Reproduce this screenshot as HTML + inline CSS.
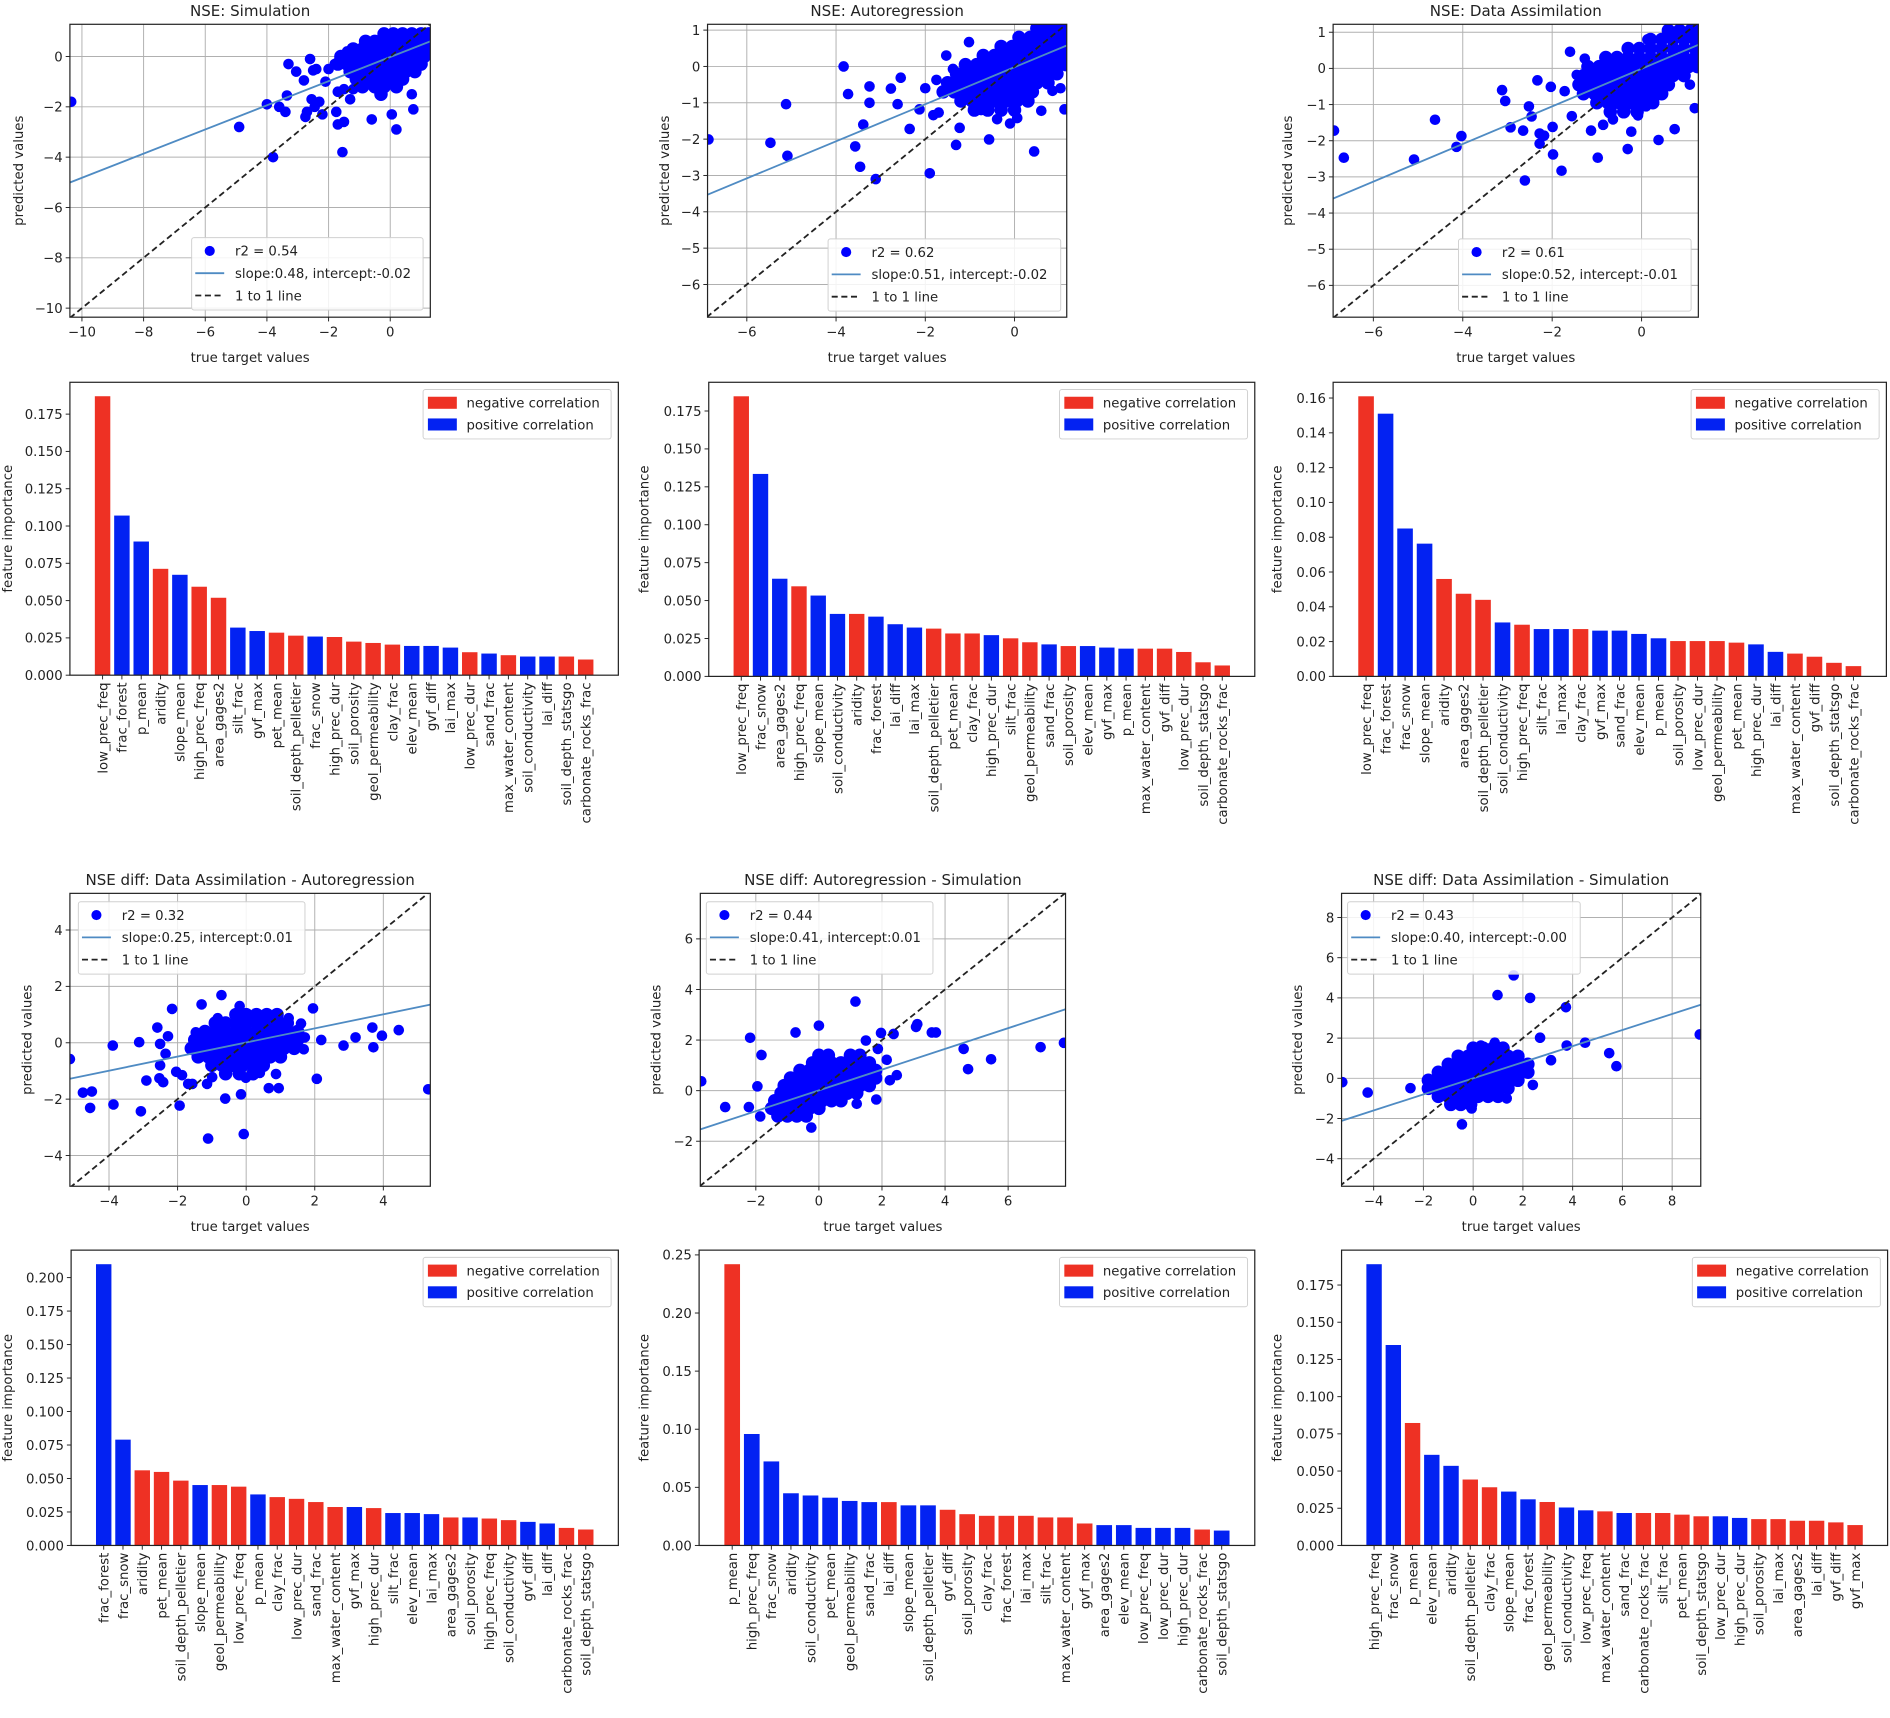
<!DOCTYPE html>
<html><head><meta charset="utf-8"><title>NSE feature importance</title>
<style>
html,body{margin:0;padding:0;background:#fff;}
svg{display:block;}
text{font-family:"DejaVu Sans","Liberation Sans",sans-serif;fill:#222;}
</style></head>
<body>
<svg id="fig" xmlns="http://www.w3.org/2000/svg" width="1890" height="1718" viewBox="0 0 1568 1425"></svg>
<script>
// ---------- scatter data ----------
const simOutliers=[[-10.35,-1.8],[-4.9,-2.8],[-3.8,-4.0],[-4.0,-1.9],[-3.6,-2.0],[-3.4,-2.2],[-3.35,-1.55],[-3.3,-0.3],[-3.05,-0.6],[-2.8,-0.95],[-2.7,-2.2],[-2.75,-2.4],[-2.6,-0.1],[-2.5,-0.55],[-2.55,-1.7],[-2.4,-0.5],[-2.45,-2.0],[-2.3,-1.8],[-2.2,-2.3],[-2.1,-1.0],[-2.0,-0.5],[-1.8,-0.3],[-1.7,-1.4],[-1.7,-2.7],[-1.75,-2.2],[-1.55,-3.8],[-1.5,-2.6],[-1.5,-1.3],[-1.4,0.2],[-1.3,-1.7],[-0.6,-2.5],[0.05,-2.3],[0.2,-2.9],[0.7,-1.5],[0.75,-2.1],[-1.2,-1.3],[-1.0,-1.1]];
const simCore=[[0.9,[-0.2,0.1,0.4,0.7,1.0,1.25]],[0.6,[-0.8,-0.5,-0.2,0.1,0.4,0.7,1.0,1.25]],[0.3,[-1.2,-0.9,-0.6,-0.3,0,0.3,0.6,0.9,1.2]],[0.0,[-1.6,-1.3,-1.0,-0.7,-0.4,-0.1,0.2,0.5,0.8,1.1]],[-0.3,[-1.7,-1.4,-1.1,-0.8,-0.5,-0.2,0.1,0.4,0.7,1.0]],[-0.6,[-1.3,-1.0,-0.7,-0.4,-0.1,0.2,0.5,0.8]],[-0.9,[-1.1,-0.8,-0.5,-0.2,0.1,0.4]],[-1.2,[-0.9,-0.5,-0.2,0.2]],[-1.5,[-0.3]]];

const arOutliers=[[-6.86,-2.01],[-5.47,-2.1],[-5.12,-1.04],[-5.09,-2.46],[-3.83,0],[-3.73,-0.76],[-3.57,-2.2],[-3.46,-2.76],[-3.39,-1.6],[-3.25,-0.55],[-3.25,-1.0],[-3.11,-3.1],[-2.77,-0.61],[-2.62,-1.04],[-2.55,-0.31],[-2.35,-1.72],[-2.13,-1.18],[-1.9,-2.94],[-1.82,-1.34],[-1.53,0.3],[-1.02,0.67],[-1.23,-1.69],[-1.31,-2.16],[-0.57,-2.01],[-0.39,-1.45],[-0.1,-1.57],[0.06,-1.42],[0.44,-2.34],[0.6,-1.22],[0.85,-0.67],[1.03,-0.6],[1.12,-1.18],[0.74,-0.3],[-2.0,-0.6],[-1.75,-0.37],[-1.38,-0.07],[-0.75,-1.2],[-0.7,-0.82],[-1.7,-1.27]];
const arCore=[[1.05,[0.5,0.75,1.0,1.15]],[0.8,[0.1,0.35,0.6,0.85,1.1]],[0.55,[-0.3,-0.05,0.2,0.45,0.7,0.95,1.15]],[0.3,[-0.7,-0.45,-0.2,0.05,0.3,0.55,0.8,1.05]],[0.05,[-1.1,-0.85,-0.6,-0.35,-0.1,0.15,0.4,0.65,0.9,1.15]],[-0.2,[-1.3,-1.05,-0.8,-0.55,-0.3,-0.05,0.2,0.45,0.7,0.95]],[-0.45,[-1.5,-1.25,-1.0,-0.75,-0.5,-0.25,0,0.25,0.5,0.75]],[-0.7,[-1.6,-1.35,-1.1,-0.85,-0.6,-0.35,-0.1,0.15,0.4]],[-0.95,[-1.2,-0.95,-0.7,-0.45,-0.2,0.05,0.3]],[-1.2,[-0.9,-0.6,-0.3,0.0]]];

const daOutliers=[[-6.88,-1.72],[-6.66,-2.47],[-4.62,-1.42],[-5.09,-2.52],[-4.14,-2.17],[-4.03,-1.87],[-3.12,-0.6],[-3.05,-0.9],[-2.93,-1.63],[-2.65,-1.72],[-2.61,-3.1],[-2.52,-1.05],[-2.46,-1.33],[-2.33,-0.33],[-2.28,-1.8],[-2.28,-2.08],[-2.18,-1.86],[-2.03,-0.51],[-1.99,-1.62],[-1.98,-2.38],[-1.79,-2.83],[-1.6,0.46],[-1.56,-1.32],[-1.27,0.27],[-1.13,-1.72],[-0.98,-2.47],[-0.86,-1.56],[-0.64,-1.41],[-0.31,-2.23],[-0.23,-1.75],[-0.08,-1.3],[0.1,-1.05],[0.35,-0.75],[0.38,-1.98],[0.74,-1.68],[1.08,-0.45],[1.19,-1.1],[0.13,0.8],[-0.91,-0.55],[-1.45,-0.18],[-1.72,-0.63]];
const daCore=[[1.05,[0.6,0.85,1.1,1.25]],[0.8,[0.2,0.45,0.7,0.95,1.2]],[0.55,[-0.3,-0.05,0.2,0.45,0.7,0.95,1.2]],[0.3,[-0.8,-0.55,-0.3,-0.05,0.2,0.45,0.7,0.95,1.2]],[0.05,[-1.2,-0.95,-0.7,-0.45,-0.2,0.05,0.3,0.55,0.8,1.05,1.25]],[-0.2,[-1.3,-1.05,-0.8,-0.55,-0.3,-0.05,0.2,0.45,0.7,0.95]],[-0.45,[-1.4,-1.15,-0.9,-0.65,-0.4,-0.15,0.1,0.35,0.6]],[-0.7,[-1.3,-1.05,-0.8,-0.55,-0.3,-0.05,0.2,0.45]],[-0.95,[-1.0,-0.75,-0.5,-0.25,0.0,0.25]],[-1.2,[-0.7,-0.4,-0.1]]];

const daArOutliers=[[-5.14,-0.58],[-4.76,-1.77],[-4.5,-1.73],[-4.55,-2.31],[-3.89,-0.1],[-3.87,-2.19],[-3.12,0.02],[-3.07,-2.43],[-2.91,-1.34],[-2.59,0.54],[-2.53,-1.26],[-2.51,-0.04],[-2.51,-0.8],[-2.42,-1.4],[-2.35,-0.39],[-2.28,0.23],[-2.16,1.2],[-2.04,-1.03],[-1.94,-2.23],[-1.87,-1.15],[-1.69,-1.46],[-1.57,-1.46],[-1.47,0.37],[-1.3,1.36],[-1.14,-1.46],[-1.11,-3.4],[-0.99,-1.22],[-0.83,0.87],[-0.72,1.69],[-0.61,-1.98],[-0.19,1.3],[-0.15,-1.83],[-0.07,-3.24],[-0.01,-1.24],[0.4,-1.07],[0.66,-1.61],[0.87,-1.11],[0.95,-1.61],[0.63,0.97],[1.04,0.72],[1.24,0.87],[1.6,0.68],[1.68,-0.23],[1.71,0.19],[1.95,1.22],[2.06,-1.28],[2.19,0.1],[2.84,-0.1],[3.19,0.19],[3.68,0.54],[3.71,-0.16],[3.96,0.25],[4.45,0.45],[5.31,-1.65]];
const daArCore=[[1.0,[-0.3,0,0.3,0.6,0.9]],[0.7,[-0.9,-0.6,-0.3,0,0.3,0.6,0.9,1.2]],[0.4,[-1.2,-0.9,-0.6,-0.3,0,0.3,0.6,0.9,1.2,1.5]],[0.1,[-1.5,-1.2,-0.9,-0.6,-0.3,0,0.3,0.6,0.9,1.2,1.5]],[-0.2,[-1.6,-1.3,-1.0,-0.7,-0.4,-0.1,0.2,0.5,0.8,1.1,1.4]],[-0.5,[-1.4,-1.1,-0.8,-0.5,-0.2,0.1,0.4,0.7,1.0]],[-0.8,[-1.0,-0.7,-0.4,-0.1,0.2,0.5]],[-1.1,[-0.6,-0.2,0.2]]];

const arSimOutliers=[[-3.73,0.37],[-2.97,-0.65],[-2.18,2.09],[-2.22,-0.65],[-1.82,1.41],[-1.95,0.17],[-1.86,-1.02],[-0.74,2.3],[0,2.57],[-0.24,-1.46],[1.16,3.52],[1.97,2.28],[2.37,2.24],[2.15,1.22],[2.25,0.41],[2.47,0.61],[1.82,-0.35],[1.2,-0.52],[3.08,2.52],[3.12,2.63],[3.58,2.3],[3.71,2.3],[4.59,1.65],[4.73,0.85],[5.46,1.24],[7.03,1.72],[7.77,1.89],[1.87,1.65],[1.49,1.98]];
const arSimCore=[[1.4,[0.0,0.3,1.0,1.3]],[1.1,[-0.2,0.1,0.4,0.7,1.0,1.3,1.6]],[0.8,[-0.6,-0.3,0,0.3,0.6,0.9,1.2,1.5,1.8]],[0.5,[-0.9,-0.6,-0.3,0,0.3,0.6,0.9,1.2,1.5,1.8]],[0.2,[-1.1,-0.8,-0.5,-0.2,0.1,0.4,0.7,1.0,1.3,1.6]],[-0.1,[-1.2,-0.9,-0.6,-0.3,0,0.3,0.6,0.9,1.2]],[-0.4,[-1.4,-1.1,-0.8,-0.5,-0.2,0.1,0.4,0.7]],[-0.7,[-1.5,-1.2,-0.9,-0.6,-0.3,0]],[-1.0,[-1.3,-1.0,-0.7,-0.4]]];

const daSimOutliers=[[-5.26,-0.19],[-4.24,-0.71],[-2.52,-0.49],[1.63,5.12],[0.98,4.14],[2.29,4.0],[3.73,3.54],[3.76,1.63],[2.69,2.02],[3.13,0.9],[2.4,-0.33],[1.35,-1.0],[1.27,-0.49],[-0.06,-1.5],[-0.45,-2.29],[4.5,1.77],[5.47,1.25],[5.76,0.6],[9.11,2.18],[0.31,1.63],[0.87,1.77]];
const daSimCore=[[1.5,[0.0,0.4,0.8,1.2]],[1.1,[-0.6,-0.2,0.2,0.6,1.0,1.4,1.8]],[0.7,[-1.0,-0.6,-0.2,0.2,0.6,1.0,1.4,1.8,2.2]],[0.3,[-1.4,-1.0,-0.6,-0.2,0.2,0.6,1.0,1.4,1.8,2.2]],[-0.1,[-1.8,-1.4,-1.0,-0.6,-0.2,0.2,0.6,1.0,1.4,1.8]],[-0.5,[-1.8,-1.4,-1.0,-0.6,-0.2,0.2,0.6,1.0,1.4]],[-0.9,[-1.4,-1.0,-0.6,-0.2,0.2,0.6,1.0]],[-1.3,[-0.9,-0.5,-0.1]]];

const scatterStats=[[0.54,0.48,-0.02],[0.62,0.51,-0.02],[0.61,0.52,-0.01],[0.32,0.25,0.01],[0.44,0.41,0.01],[0.43,0.40,-0.00]];

// ---------- bar data ----------
const labels1=['low_prec_freq','frac_forest','p_mean','aridity','slope_mean','high_prec_freq','area_gages2','silt_frac','gvf_max','pet_mean','soil_depth_pelletier','frac_snow','high_prec_dur','soil_porosity','geol_permeability','clay_frac','elev_mean','gvf_diff','lai_max','low_prec_dur','sand_frac','max_water_content','soil_conductivity','lai_diff','soil_depth_statsgo','carbonate_rocks_frac'];
const values1=[0.187,0.107,0.0896,0.0713,0.0673,0.0593,0.0519,0.0319,0.0296,0.0285,0.0265,0.0259,0.0256,0.0225,0.0216,0.0205,0.0196,0.0196,0.0185,0.0154,0.0145,0.0134,0.0125,0.0125,0.0125,0.0105];
const signs1='RBBRBRRBBRRBRRRRBBBRBRBBRR';
const labels2=['low_prec_freq','frac_snow','area_gages2','high_prec_freq','slope_mean','soil_conductivity','aridity','frac_forest','lai_diff','lai_max','soil_depth_pelletier','pet_mean','clay_frac','high_prec_dur','silt_frac','geol_permeability','sand_frac','soil_porosity','elev_mean','gvf_max','p_mean','max_water_content','gvf_diff','low_prec_dur','soil_depth_statsgo','carbonate_rocks_frac'];
const values2=[0.1847,0.1335,0.0644,0.0594,0.0533,0.0412,0.0412,0.0394,0.0344,0.0322,0.0315,0.0283,0.0283,0.0272,0.0251,0.0225,0.0211,0.0200,0.0200,0.0190,0.0183,0.0183,0.0183,0.0161,0.0093,0.0072];
const signs2='RBBRBBRBBBRRRBRRBRBBBRRRRR';
const labels3=['low_prec_freq','frac_forest','frac_snow','slope_mean','aridity','area_gages2','soil_depth_pelletier','soil_conductivity','high_prec_freq','silt_frac','lai_max','clay_frac','gvf_max','sand_frac','elev_mean','p_mean','soil_porosity','low_prec_dur','geol_permeability','pet_mean','high_prec_dur','lai_diff','max_water_content','gvf_diff','soil_depth_statsgo','carbonate_rocks_frac'];
const values3=[0.161,0.151,0.085,0.0763,0.056,0.0475,0.044,0.031,0.0297,0.0272,0.0272,0.0272,0.0263,0.0263,0.0244,0.0219,0.0203,0.0203,0.0203,0.0194,0.0184,0.0141,0.0131,0.0113,0.0078,0.0059];
const signs3='RBBBRRRBRBBRBBBBRRRRBBRRRR';
const labels4=['frac_forest','frac_snow','aridity','pet_mean','soil_depth_pelletier','slope_mean','geol_permeability','low_prec_freq','p_mean','clay_frac','low_prec_dur','sand_frac','max_water_content','gvf_max','high_prec_dur','silt_frac','elev_mean','lai_max','area_gages2','soil_porosity','high_prec_freq','soil_conductivity','gvf_diff','lai_diff','carbonate_rocks_frac','soil_depth_statsgo'];
const values4=[0.210,0.079,0.0561,0.0549,0.0484,0.0451,0.0451,0.0439,0.0381,0.0361,0.0348,0.0324,0.0287,0.0287,0.0279,0.0242,0.0242,0.0234,0.0209,0.0209,0.0201,0.0189,0.0176,0.0164,0.0131,0.0119];
const signs4='BBRRRBRRBRRRRBRBBBRBRRBBRR';
const labels5=['p_mean','high_prec_freq','frac_snow','aridity','soil_conductivity','pet_mean','geol_permeability','sand_frac','lai_diff','slope_mean','soil_depth_pelletier','gvf_diff','soil_porosity','clay_frac','frac_forest','lai_max','silt_frac','max_water_content','gvf_max','area_gages2','elev_mean','low_prec_freq','low_prec_dur','high_prec_dur','carbonate_rocks_frac','soil_depth_statsgo'];
const values5=[0.242,0.0959,0.0723,0.0449,0.043,0.0411,0.0383,0.0373,0.0373,0.0345,0.0345,0.0307,0.0269,0.0255,0.0255,0.0255,0.0241,0.0241,0.0189,0.0175,0.0175,0.0151,0.0151,0.0151,0.0137,0.0128];
const signs5='RBBBBBBBRBBRRRRRRRRBBBBBRB';
const labels6=['high_prec_freq','frac_snow','p_mean','elev_mean','aridity','soil_depth_pelletier','clay_frac','slope_mean','frac_forest','geol_permeability','soil_conductivity','low_prec_freq','max_water_content','sand_frac','carbonate_rocks_frac','silt_frac','pet_mean','soil_depth_statsgo','low_prec_dur','high_prec_dur','soil_porosity','lai_max','area_gages2','lai_diff','gvf_diff','gvf_max'];
const values6=[0.189,0.1347,0.0823,0.0609,0.0535,0.0443,0.0391,0.0362,0.031,0.0292,0.0255,0.0236,0.0229,0.0218,0.0218,0.0218,0.0207,0.0196,0.0196,0.0185,0.0177,0.0177,0.0166,0.0166,0.0155,0.0137];
const signs6='BBRBBRRBBRBBRBRRRRBBRRRRRR';

// ---------- drawing ----------
const NS='http://www.w3.org/2000/svg';
const svg=document.getElementById('fig');
function el(tag,attrs,parent){const e=document.createElementNS(NS,tag);for(const k in attrs)e.setAttribute(k,attrs[k]);(parent||svg).appendChild(e);return e;}
function txt(s,attrs,parent){const e=el('text',attrs,parent);e.textContent=s;return e;}
function fmt(v,d){const s=Math.abs(v).toFixed(d);return (v<0&&Math.abs(v)>1e-9?'\u2212':'')+s;}
const FS=11;

function drawScatter(c){
  const g=el('g',{});
  
  
  const [bx0,by0,bx1,by1]=c.box;
  const sx=v=>bx0+(v-c.xlim[0])/(c.xlim[1]-c.xlim[0])*(bx1-bx0);
  const sy=v=>by1-(v-c.ylim[0])/(c.ylim[1]-c.ylim[0])*(by1-by0);
  const cid=c.name+'-clip';
  const cp=el('clipPath',{id:cid},g);
  el('rect',{x:bx0,y:by0,width:bx1-bx0,height:by1-by0},cp);
  c.xticks.forEach(t=>{
    const x=sx(t);
    const gl=el('line',{x1:x,x2:x,y1:by0,y2:by1,stroke:'#b0b0b0','stroke-width':0.8},g);
    
    
    el('line',{x1:x,x2:x,y1:by1,y2:by1+3.5,stroke:'#222','stroke-width':0.8},g);
    const tl=txt(fmt(t,0),{x:x,y:by1+16,'font-size':FS,'text-anchor':'middle'},g);
    
    
  });
  c.yticks.forEach(t=>{
    const y=sy(t);
    const gl=el('line',{x1:bx0,x2:bx1,y1:y,y2:y,stroke:'#b0b0b0','stroke-width':0.8},g);
    
    
    el('line',{x1:bx0-3.5,x2:bx0,y1:y,y2:y,stroke:'#222','stroke-width':0.8},g);
    const tl=txt(fmt(t,0),{x:bx0-6,y:y+4,'font-size':FS,'text-anchor':'end'},g);
    
    
  });
  const pg=el('g',{'clip-path':'url(#'+cid+')'},g);
  
  
  c.core.forEach(r=>r[1].forEach(x=>{
    const d=el('circle',{cx:sx(x),cy:sy(r[0]),r:5.6,fill:'#0000ff'},pg);
    
    
  }));
  c.outliers.forEach(p=>{
    const d=el('circle',{cx:sx(p[0]),cy:sy(p[1]),r:4.4,fill:'#0000ff'},pg);
    
    
  });
  const slope=c.stats[1],icpt=c.stats[2];
  const rl=el('line',{x1:sx(c.xlim[0]),y1:sy(slope*c.xlim[0]+icpt),x2:sx(c.xlim[1]),y2:sy(slope*c.xlim[1]+icpt),stroke:'#4f8bc3','stroke-width':1.5},pg);
  
  
  const lo=Math.min(c.xlim[0],c.ylim[0]),hi=Math.max(c.xlim[1],c.ylim[1]);
  const ol=el('line',{x1:sx(lo),y1:sy(lo),x2:sx(hi),y2:sy(hi),stroke:'#222','stroke-width':1.5,'stroke-dasharray':'5,3'},pg);
  
  
  const sp=el('rect',{x:bx0,y:by0,width:bx1-bx0,height:by1-by0,fill:'none',stroke:'#222','stroke-width':1},g);
  
  
  const tt=txt(c.title,{x:(bx0+bx1)/2,y:by0-7,'font-size':12.5,'text-anchor':'middle'},g);
  
  
  const xl=txt('true target values',{x:(bx0+bx1)/2,y:by1+37,'font-size':FS,'text-anchor':'middle'},g);
  
  
  const yl=txt('predicted values',{x:0,y:0,'font-size':FS,'text-anchor':'middle',transform:'translate('+(c.ylabX+4)+','+((by0+by1)/2)+') rotate(-90)'},g);
  
  
  const [lx,ly]=c.leg;const lw=c.legW,lh=60;
  const lg=el('g',{},g);
  
  
  el('rect',{x:lx,y:ly,width:lw,height:lh,rx:2,fill:'#fff','fill-opacity':0.85,stroke:'#d0d0d0','stroke-width':0.8},lg);
  el('circle',{cx:lx+15,cy:ly+11,r:4.2,fill:'#0000ff'},lg);
  el('line',{x1:lx+3,x2:lx+27,y1:ly+29.5,y2:ly+29.5,stroke:'#4f8bc3','stroke-width':1.5},lg);
  el('line',{x1:lx+3,x2:lx+27,y1:ly+48,y2:ly+48,stroke:'#222','stroke-width':1.5,'stroke-dasharray':'5,3'},lg);
  const e1=txt('r2 = '+c.stats[0].toFixed(2),{x:lx+36,y:ly+15,'font-size':FS},lg);
  
  
  const e2=txt('slope:'+slope.toFixed(2)+', intercept:'+(icpt<=0?'-':'')+Math.abs(icpt).toFixed(2),{x:lx+36,y:ly+33.5,'font-size':FS},lg);
  
  
  const e3=txt('1 to 1 line',{x:lx+36,y:ly+52,'font-size':FS},lg);
  
  
}

function drawBars(c){
  const g=el('g',{});
  
  
  const [bx0,by0,bx1,by1]=c.box;
  const n=c.labels.length;
  const span=n-1+0.8;
  const xlo=-0.4-0.05*span,xhi=n-0.6+0.05*span;
  const ytop=Math.max(...c.values)*1.05;
  const sx=v=>bx0+(v-xlo)/(xhi-xlo)*(bx1-bx0);
  const sy=v=>by1-v/ytop*(by1-by0);
  c.values.forEach((v,i)=>{
    const x0=sx(i-0.4),x1=sx(i+0.4);
    const b=el('rect',{x:x0,y:sy(v),width:x1-x0,height:by1-sy(v),fill:c.signs[i]==='R'?'#ee3124':'#0322f2'},g);
    
    
    const cx=sx(i);
    el('line',{x1:cx,x2:cx,y1:by1,y2:by1+3.5,stroke:'#222','stroke-width':0.8},g);
    const lt=txt(c.labels[i],{x:0,y:0,'font-size':FS,'text-anchor':'end',transform:'translate('+(cx+4)+','+(by1+6)+') rotate(-90)'},g);
    
    
  });
  for(let k=0;k*c.step<=ytop+1e-9;k++){
    const t=k*c.step,y=sy(t);
    el('line',{x1:bx0-3.5,x2:bx0,y1:y,y2:y,stroke:'#222','stroke-width':0.8},g);
    const tl=txt(t.toFixed(c.dec),{x:bx0-6,y:y+4,'font-size':FS,'text-anchor':'end'},g);
    
    
  }
  const sp=el('rect',{x:bx0,y:by0,width:bx1-bx0,height:by1-by0,fill:'none',stroke:'#222','stroke-width':1},g);
  
  
  const yl=txt('feature importance',{x:0,y:0,'font-size':FS,'text-anchor':'middle',transform:'translate('+(c.ylabX+4)+','+((by0+by1)/2)+') rotate(-90)'},g);
  
  
  const lx=bx1-162,ly=by0+6;
  const lg=el('g',{},g);
  
  
  el('rect',{x:lx,y:ly,width:156,height:41,rx:2,fill:'#fff','fill-opacity':0.85,stroke:'#d0d0d0','stroke-width':0.8},lg);
  el('rect',{x:lx+4,y:ly+6,width:24,height:10,fill:'#ee3124'},lg);
  el('rect',{x:lx+4,y:ly+24,width:24,height:10,fill:'#0322f2'},lg);
  const n1=txt('negative correlation',{x:lx+36,y:ly+15,'font-size':FS},lg);
  
  
  const n2=txt('positive correlation',{x:lx+36,y:ly+33,'font-size':FS},lg);
  
  
}

drawScatter({name:'scatter-simulation',title:'NSE: Simulation',box:[58,20,357,263],xlim:[-10.39,1.30],ylim:[-10.36,1.28],xticks:[-10,-8,-6,-4,-2,0],yticks:[-10,-8,-6,-4,-2,0],outliers:simOutliers,core:simCore,stats:scatterStats[0],leg:[159,197],legW:192,ylabX:15});
drawScatter({name:'scatter-autoregression',title:'NSE: Autoregression',box:[587,20,885,263],xlim:[-6.88,1.17],ylim:[-6.9,1.16],xticks:[-6,-4,-2,0],yticks:[-6,-5,-4,-3,-2,-1,0,1],outliers:arOutliers,core:arCore,stats:scatterStats[1],leg:[687,198],legW:193,ylabX:551});
drawScatter({name:'scatter-data-assimilation',title:'NSE: Data Assimilation',box:[1106,20,1409,263],xlim:[-6.9,1.27],ylim:[-6.88,1.22],xticks:[-6,-4,-2,0],yticks:[-6,-5,-4,-3,-2,-1,0,1],outliers:daOutliers,core:daCore,stats:scatterStats[2],leg:[1210,198],legW:193,ylabX:1068});
drawBars({name:'bars-simulation',box:[58,317,513,560],labels:labels1,values:values1,signs:signs1,step:0.025,dec:3,ylabX:6});
drawBars({name:'bars-autoregression',box:[588,317,1041,561],labels:labels2,values:values2,signs:signs2,step:0.025,dec:3,ylabX:534});
drawBars({name:'bars-data-assimilation',box:[1106,317,1565,561],labels:labels3,values:values3,signs:signs3,step:0.02,dec:2,ylabX:1059});
drawScatter({name:'scatter-diff-da-ar',title:'NSE diff: Data Assimilation - Autoregression',box:[58,741,357,984],xlim:[-5.14,5.37],ylim:[-5.09,5.3],xticks:[-4,-2,0,2,4],yticks:[-4,-2,0,2,4],outliers:daArOutliers,core:daArCore,stats:scatterStats[3],leg:[65,748],legW:188,ylabX:22});
drawScatter({name:'scatter-diff-ar-sim',title:'NSE diff: Autoregression - Simulation',box:[581,741,884,984],xlim:[-3.76,7.82],ylim:[-3.78,7.8],xticks:[-2,0,2,4,6],yticks:[-2,0,2,4,6],outliers:arSimOutliers,core:arSimCore,stats:scatterStats[4],leg:[586,748],legW:188,ylabX:544});
drawScatter({name:'scatter-diff-da-sim',title:'NSE diff: Data Assimilation - Simulation',box:[1113,741,1411,984],xlim:[-5.29,9.15],ylim:[-5.37,9.2],xticks:[-4,-2,0,2,4,6,8],yticks:[-4,-2,0,2,4,6,8],outliers:daSimOutliers,core:daSimCore,stats:scatterStats[5],leg:[1118,748],legW:193,ylabX:1076});
drawBars({name:'bars-diff-da-ar',box:[59,1037,513,1282],labels:labels4,values:values4,signs:signs4,step:0.025,dec:3,ylabX:6});
drawBars({name:'bars-diff-ar-sim',box:[580,1037,1041,1282],labels:labels5,values:values5,signs:signs5,step:0.05,dec:2,ylabX:534});
drawBars({name:'bars-diff-da-sim',box:[1113,1037,1566,1282],labels:labels6,values:values6,signs:signs6,step:0.025,dec:3,ylabX:1059});
</script>
</body></html>
